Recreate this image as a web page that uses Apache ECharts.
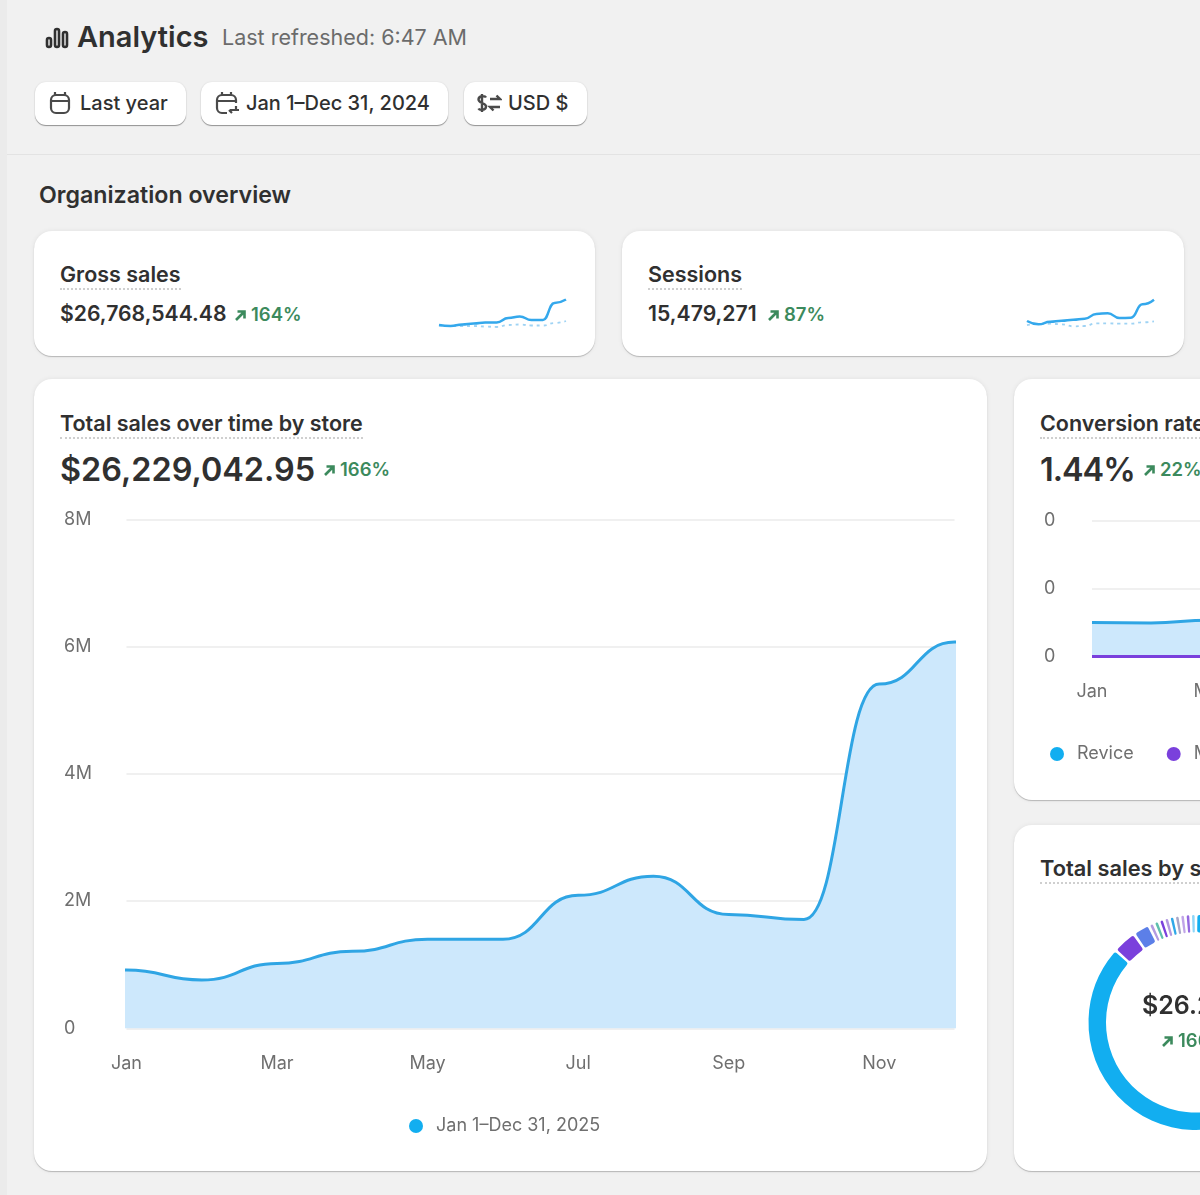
<!DOCTYPE html>
<html>
<head>
<meta charset="utf-8">
<script src="https://cdn.jsdelivr.net/npm/echarts@6/dist/echarts.min.js"></script>
<style>
html, body { margin: 0; width: 1200px; height: 1195px; overflow: hidden; background: #f1f1f1; font-family: Inter, "Noto Sans", sans-serif; color: #303030; }
.abs { position: absolute; white-space: nowrap; }
.strip { position: absolute; left: 0; top: 0; width: 7px; height: 1195px; background: #ebebeb; }
.rule { position: absolute; left: 7px; top: 154px; width: 1193px; height: 1px; background: #e3e3e3; }
.card { position: absolute; background: #fff; border-radius: 18px; box-shadow: 0 1px 1px rgba(0,0,0,.22), 0 0 5px rgba(0,0,0,.07); }
.btn { position: absolute; top: 82px; height: 43px; background: #fff; border-radius: 11px; box-shadow: 0 1px 1px rgba(0,0,0,.38), 0 0 2px rgba(0,0,0,.1); font-size: 20px; font-weight: 500; line-height: 43px; white-space: nowrap; }
.title { position: absolute; font-size: 21.5px; font-weight: 600; line-height: 26px; padding-bottom: 1px; border-bottom: 2px dotted #cfcfcf; white-space: nowrap; }
.delta { position: absolute; color: #3c8a5d; font-weight: 600; font-size: 18.5px; line-height: 24px; white-space: nowrap; }
.delta svg { vertical-align: 0; margin-right: 5px; }
.chart { position: absolute; }
</style>
</head>
<body>
<div class="strip"></div>
<div class="rule"></div>

<svg class="abs" style="left:45px;top:27px" width="24" height="22" viewBox="0 0 24 22" fill="none" stroke="#303030" stroke-width="2.6"><rect x="2" y="11" width="4" height="9" rx="2"/><rect x="10" y="2" width="4" height="18" rx="2"/><rect x="18" y="5" width="4" height="15" rx="2"/></svg>
<div class="abs" style="left:77px;top:18px;font-size:29px;font-weight:600;line-height:38px">Analytics</div>
<div class="abs" style="left:222px;top:24px;font-size:21.5px;line-height:26px;color:#6b6b6b">Last refreshed: 6:47 AM</div>

<div class="btn" style="left:35px;width:151px"><svg class="abs" style="left:13px;top:9px" width="24" height="24" viewBox="0 0 24 24" fill="none" stroke="#4a4a4a" stroke-width="2.2"><rect x="3" y="4" width="18" height="18" rx="5"/><path d="M3 10h18M7 1v4M17 1v4"/></svg><span class="abs" style="left:45px">Last year</span></div>
<div class="btn" style="left:201px;width:247px"><svg class="abs" style="left:14px;top:9px" width="26" height="24" viewBox="0 0 26 24" fill="none" stroke="#4a4a4a" stroke-width="2.2"><path d="M12 22H7a5 5 0 0 1-5-5V9a5 5 0 0 1 5-5h9a5 5 0 0 1 5 5v3M2 10h19M7 1v4M16 1v4M15 19h9M21 15v4M17 22l-3-3"/></svg><span class="abs" style="left:45px">Jan 1–Dec 31, 2024</span></div>
<div class="btn" style="left:464px;width:123px"><svg class="abs" style="left:12px;top:10px" width="26" height="22" viewBox="0 0 26 22" fill="none" stroke="#4a4a4a" stroke-width="2.4"><path d="M10 5.500C9 3.500 2.500 3.500 2.500 7.500s7.500 3 7.500 7-6.500 4-7.500 2M6 2v18M14 7h10l-3.500-3.500M24 15H14l3.500 3.500"/></svg><span class="abs" style="left:44px">USD $</span></div>

<div class="abs" style="left:39px;top:181px;font-size:23.2px;font-weight:600;line-height:28px">Organization overview</div>

<div class="card" style="left:34px;top:231px;width:561px;height:125px"></div>
<div class="title" style="left:60px;top:261px">Gross sales</div>
<div class="abs" style="left:60px;top:299px;font-size:21.2px;font-weight:600;line-height:28px">$26,768,544.48</div>
<div class="delta" style="left:235px;top:302px"><svg width="11" height="11" viewBox="0 0 11 11" fill="none" stroke="#3c8a5d" stroke-width="2.6"><path d="M1 10 9 2M2.500 1.500h7v7"/></svg>164%</div>
<div class="chart" id="sparkGross" style="left:430px;top:285px;width:150px;height:50px"></div>

<div class="card" style="left:622px;top:231px;width:562px;height:125px"></div>
<div class="title" style="left:648px;top:261px">Sessions</div>
<div class="abs" style="left:648px;top:299px;font-size:21.2px;font-weight:600;line-height:28px">15,479,271</div>
<div class="delta" style="left:768px;top:302px"><svg width="11" height="11" viewBox="0 0 11 11" fill="none" stroke="#3c8a5d" stroke-width="2.6"><path d="M1 10 9 2M2.500 1.500h7v7"/></svg>87%</div>
<div class="chart" id="sparkSessions" style="left:1018px;top:285px;width:150px;height:50px"></div>

<div class="card" style="left:34px;top:379px;width:953px;height:792px"></div>
<div class="title" style="left:60px;top:410px">Total sales over time by store</div>
<div class="abs" style="left:60px;top:450px;font-size:32.4px;font-weight:600;line-height:40px">$26,229,042.95</div>
<div class="delta" style="left:324px;top:457px"><svg width="11" height="11" viewBox="0 0 11 11" fill="none" stroke="#3c8a5d" stroke-width="2.6"><path d="M1 10 9 2M2.500 1.500h7v7"/></svg>166%</div>
<div class="chart" id="mainChart" style="left:34px;top:379px;width:953px;height:792px"></div>

<div class="card" style="left:1014px;top:379px;width:786px;height:421px"></div>
<div class="title" style="left:1040px;top:410px">Conversion rate over time by store</div>
<div class="abs" style="left:1040px;top:450px;font-size:32.4px;font-weight:600;line-height:40px;letter-spacing:-1px">1.44%</div>
<div class="delta" style="left:1144px;top:457px"><svg width="11" height="11" viewBox="0 0 11 11" fill="none" stroke="#3c8a5d" stroke-width="2.6"><path d="M1 10 9 2M2.500 1.500h7v7"/></svg>22%</div>
<div class="chart" id="convChart" style="left:1014px;top:379px;width:786px;height:421px"></div>

<div class="card" style="left:1014px;top:825px;width:786px;height:346px"></div>
<div class="title" style="left:1040px;top:855px;font-size:21.8px">Total sales by store</div>
<div class="chart" id="donutChart" style="left:1014px;top:825px;width:400px;height:346px"></div>
<div class="abs" style="left:1142px;top:989px;font-size:25px;font-weight:600;line-height:32px">$26.23M</div>
<div class="delta" style="left:1162px;top:1028px"><svg width="11" height="11" viewBox="0 0 11 11" fill="none" stroke="#3c8a5d" stroke-width="2.6"><path d="M1 10 9 2M2.500 1.500h7v7"/></svg>166%</div>

<script>
const months = ['Jan', 'Feb', 'Mar', 'Apr', 'May', 'Jun', 'Jul', 'Aug', 'Sep', 'Oct', 'Nov', 'Dec'];
const totalSales = [0.915, 0.76, 1.02, 1.21, 1.40, 1.40, 2.09, 2.39, 1.79, 1.71, 5.41, 6.07];
const grossNow = [0.82, 0.61, 0.92, 1.12, 1.33, 1.33, 2.24, 2.55, 1.84, 1.84, 5.31, 6.02];
const grossPrev = [0.71, 0.61, 0.61, 0.61, 0.51, 0.41, 0.82, 0.92, 0.71, 0.71, 1.22, 1.63];
const sessionsNow = [0.80, 0.47, 0.73, 0.83, 0.93, 1.03, 1.51, 1.58, 1.10, 1.13, 2.48, 2.94];
const sessionsPrev = [0.40, 0.50, 0.53, 0.47, 0.27, 0.30, 0.57, 0.57, 0.53, 0.53, 0.67, 0.77];
const conversionRevice = [1.50, 1.48, 1.60, 1.58, 1.55, 1.52, 1.50, 1.46, 1.44, 1.42, 1.38, 1.36];
const conversionMain = [0, 0, 0, 0, 0, 0, 0, 0, 0, 0, 0, 0];
const storeNames = ['Revice', 'Main', 'Store 3', 'Store 4', 'Store 5', 'Store 6', 'Store 7', 'Store 8', 'Store 9', 'Store 10', 'Store 11', 'Store 12'];
const storeSales = [22.7, 0.95, 0.66, 0.21, 0.21, 0.21, 0.21, 0.21, 0.21, 0.21, 0.21, 0.21];
const storeColors = ['#12aef0', '#7a40dc', '#5c7fe8', '#b39ae0', '#5fbfae', '#7a40dc', '#b39ae0', '#2fa8e8', '#a9a6c8', '#c0a4e8', '#9468e0', '#8fd6f7'];

const LABEL = '#6f6f6f';
const GRID = '#f0f0f0';
const LINE = '#2fa5e4';
const FILL = '#cde8fc';

// monotone smoothing only flattens a point that has a neighbour on both sides,
// so hold Jan and Dec one month past the axis; the grid clips those two away
const salesPoints = [[-1, totalSales[0]]]
  .concat(totalSales.map((v, i) => [i, v]))
  .concat([[12, totalSales[11]]]);

const mainChart = echarts.init(document.getElementById('mainChart'));
mainChart.setOption({
  animation: false,
  textStyle: { fontFamily: 'Inter' },
  grid: { left: 92.5, right: 32.5, top: 140.3, bottom: 142.7 },
  legend: {
    left: 370, top: 733, icon: 'circle', itemWidth: 14, itemHeight: 14,
    data: [{ name: 'Jan 1–Dec 31, 2025', itemStyle: { color: '#12aef0' } }],
    textStyle: { color: LABEL, fontSize: 18, padding: [0, 0, 0, 8] }
  },
  xAxis: {
    type: 'value', min: 0, max: 11, interval: 2,
    axisLine: { show: false }, axisTick: { show: false }, splitLine: { show: false },
    axisLabel: { color: LABEL, fontSize: 18, margin: 26, showMaxLabel: false, formatter: v => months[v] }
  },
  yAxis: {
    type: 'value', min: 0, max: 8, interval: 2,
    axisLine: { show: false }, axisTick: { show: false },
    axisLabel: { color: LABEL, fontSize: 18, align: 'left', margin: 62.5, formatter: v => v ? v + 'M' : '0' },
    splitLine: { lineStyle: { color: GRID, width: 2 } }
  },
  series: [{
    name: 'Jan 1–Dec 31, 2025', type: 'line',
    data: salesPoints, clip: true,
    smooth: true, smoothMonotone: 'x', showSymbol: false,
    lineStyle: { color: LINE, width: 3 },
    itemStyle: { color: LINE },
    areaStyle: { color: FILL, opacity: 1 }
  }]
});

const convChart = echarts.init(document.getElementById('convChart'));
convChart.setOption({
  animation: false,
  textStyle: { fontFamily: 'Inter' },
  grid: { left: 78, width: 649, top: 141.5, height: 136 },
  legend: {
    left: 31, top: 361, icon: 'circle', itemWidth: 14, itemHeight: 14, itemGap: 33,
    data: [
      { name: 'Revice', itemStyle: { color: '#12aef0' } },
      { name: 'Main', itemStyle: { color: '#7a40dc' } }
    ],
    textStyle: { color: LABEL, fontSize: 18, padding: [0, 0, 0, 8] }
  },
  xAxis: {
    type: 'category', data: months, boundaryGap: false,
    axisLine: { show: false }, axisTick: { show: false },
    axisLabel: { color: LABEL, fontSize: 18, margin: 26, interval: 1 }
  },
  yAxis: {
    type: 'value', min: 0, max: 6, interval: 3,
    axisLine: { show: false }, axisTick: { show: false },
    axisLabel: { color: LABEL, fontSize: 18, align: 'left', margin: 48, formatter: () => '0' },
    splitLine: { lineStyle: { color: GRID, width: 2 } }
  },
  series: [{
    name: 'Revice', type: 'line', data: conversionRevice,
    smooth: true, smoothMonotone: 'x', showSymbol: false,
    lineStyle: { color: LINE, width: 3 }, itemStyle: { color: LINE },
    areaStyle: { color: FILL, opacity: 1 }
  }, {
    name: 'Main', type: 'line', data: conversionMain,
    showSymbol: false,
    lineStyle: { color: '#7a40dc', width: 3 }, itemStyle: { color: '#7a40dc' }
  }]
});

function spark(id, now, prev, max) {
  const chart = echarts.init(document.getElementById(id));
  chart.setOption({
    animation: false,
    grid: { left: 9, width: 127, top: 11, height: 33 },
    xAxis: { type: 'category', data: months, boundaryGap: false, show: false },
    yAxis: { type: 'value', min: 0, max: max, show: false },
    series: [{
      type: 'line', data: prev, smooth: true, smoothMonotone: 'x', showSymbol: false,
      lineStyle: { color: '#9fd3f4', width: 1.8, type: [3, 4] }
    }, {
      type: 'line', data: now, smooth: true, smoothMonotone: 'x', showSymbol: false,
      lineStyle: { color: '#34a8ec', width: 2.5 }
    }]
  });
}
spark('sparkGross', grossNow, grossPrev, 6.73);
spark('sparkSessions', sessionsNow, sessionsPrev, 3.31);

const donutChart = echarts.init(document.getElementById('donutChart'));
donutChart.setOption({
  animation: false,
  series: [{
    type: 'pie', center: [182, 197.5], radius: [90, 107.5], startAngle: 90,
    padAngle: 1.5, label: { show: false }, labelLine: { show: false },
    itemStyle: { borderRadius: 2 },
    data: storeNames.map((name, i) => ({ name: name, value: storeSales[i], itemStyle: { color: storeColors[i] } }))
  }]
});
</script>
</body>
</html>
